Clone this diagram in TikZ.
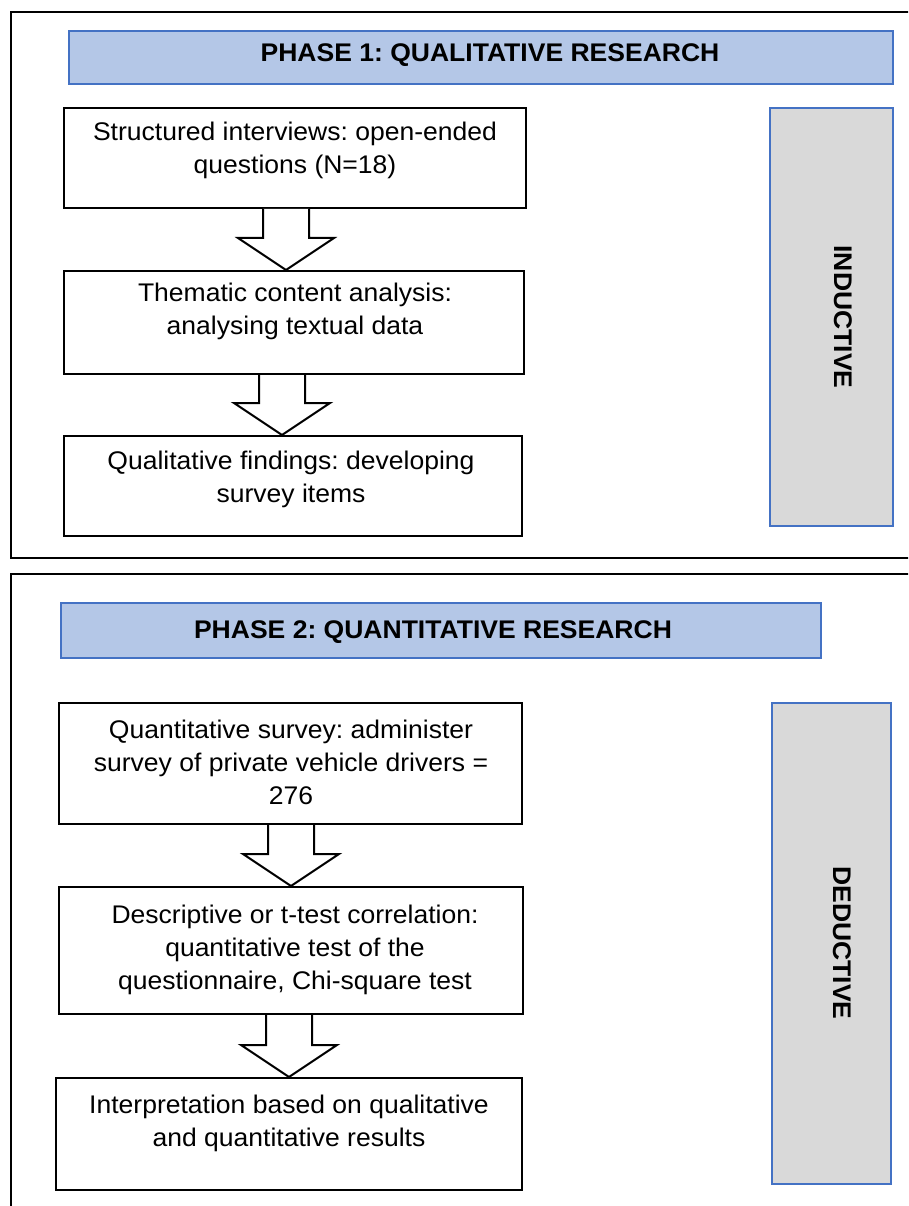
\documentclass[tikz,border=0pt]{standalone}
\usepackage{fontspec}
\setmainfont{Liberation Sans}[FakeStretch=1.04]
\usetikzlibrary{calc}
\definecolor{hdrfill}{HTML}{B4C7E7}
\definecolor{hdrline}{HTML}{4472C4}
\definecolor{sidefill}{HTML}{D9D9D9}
\frenchspacing
\begin{document}
\begin{tikzpicture}[x=1pt,y=-1pt,
  frame/.style={draw=black,line width=2.2pt},
  header/.style={draw=hdrline,fill=hdrfill,line width=2pt,anchor=north west,inner sep=0pt},
  side/.style={draw=hdrline,fill=sidefill,line width=2pt,anchor=north west,inner sep=0pt},
  stepbox/.style={draw=black,fill=white,line width=2pt,anchor=north west,inner sep=0pt},
  body/.style={align=center,inner sep=0pt,font=\fontsize{25.5}{33}\selectfont},
  hdrtext/.style={inner sep=0pt,font=\fontsize{25.5}{33}\selectfont\bfseries},
  sidetext/.style={inner sep=0pt,rotate=-90,font=\fontsize{25.5}{33}\selectfont\bfseries},
  blockarrow/.style={draw=black,fill=white,line width=2pt,line join=miter}]
\useasboundingbox (0,0) rectangle (908,1206);
\clip (0,0) rectangle (908,1206);

% phase frames
\draw[frame] (930,12) -- (11,12) -- (11,558) -- (930,558);
\draw[frame] (930,574) -- (11,574) -- (11,1230);

% headers
\node[header,minimum width=824pt,minimum height=53pt] (h1) at (68,30) {};
\node[hdrtext] (h1t) at (490,55) {PHASE 1: QUALITATIVE RESEARCH};
\node[header,minimum width=760pt,minimum height=55pt] (h2) at (60,602) {};
\node[hdrtext] (h2t) at (433,632) {PHASE 2: QUANTITATIVE RESEARCH};

% side boxes
\node[side,minimum width=123pt,minimum height=418pt] (ind) at (769,107) {};
\node[sidetext] (indt) at (843,317) {INDUCTIVE};
\node[side,minimum width=119pt,minimum height=481pt] (ded) at (771,702) {};
\node[sidetext] (dedt) at (842,943) {DEDUCTIVE};

% phase 1 steps
\node[stepbox,minimum width=462pt,minimum height=100pt] (b1) at (63,107) {};
\node[body] (b1t) at (295,150) {Structured interviews: open-ended\\questions (N=18)};
\node[stepbox,minimum width=460pt,minimum height=103pt] (b2) at (63,270) {};
\node[body] (b2t) at (295,311) {Thematic content analysis:\\analysing textual data};
\node[stepbox,minimum width=458pt,minimum height=100pt] (b3) at (63,435) {};
\node[body] (b3t) at (291,479) {Qualitative findings: developing\\survey items};

% phase 2 steps
\node[stepbox,minimum width=463pt,minimum height=121pt] (b4) at (58,702) {};
\node[body] (b4t) at (291,762) {Quantitative survey: administer\\survey of private vehicle drivers =\\276};
\node[stepbox,minimum width=464pt,minimum height=127pt] (b5) at (58,886) {};
\node[body] (b5t) at (295,950) {Descriptive or t-test correlation:\\quantitative test of the\\questionnaire, Chi-square test};
\node[stepbox,minimum width=466pt,minimum height=112pt] (b6) at (55,1077) {};
\node[body] (b6t) at (289,1123) {Interpretation based on qualitative\\and quantitative results};

% block arrows between steps (centre line, shaft and head half widths)
\coordinate (c1) at (286,0);
\coordinate (c2) at (282,0);
\coordinate (c3) at (291,0);
\coordinate (c4) at (289,0);
\foreach \c/\a/\b in {c1/b1/b2, c2/b2/b3, c3/b4/b5, c4/b5/b6}{
  \draw[blockarrow]
    ($(\c |- \a.south)+(-23,0)$) --
    ($(\c |- \b.north)+(-23,-32)$) --
    ($(\c |- \b.north)+(-48,-32)$) --
    (\c |- \b.north) --
    ($(\c |- \b.north)+(48,-32)$) --
    ($(\c |- \b.north)+(23,-32)$) --
    ($(\c |- \a.south)+(23,0)$);
}
\end{tikzpicture}
\end{document}
